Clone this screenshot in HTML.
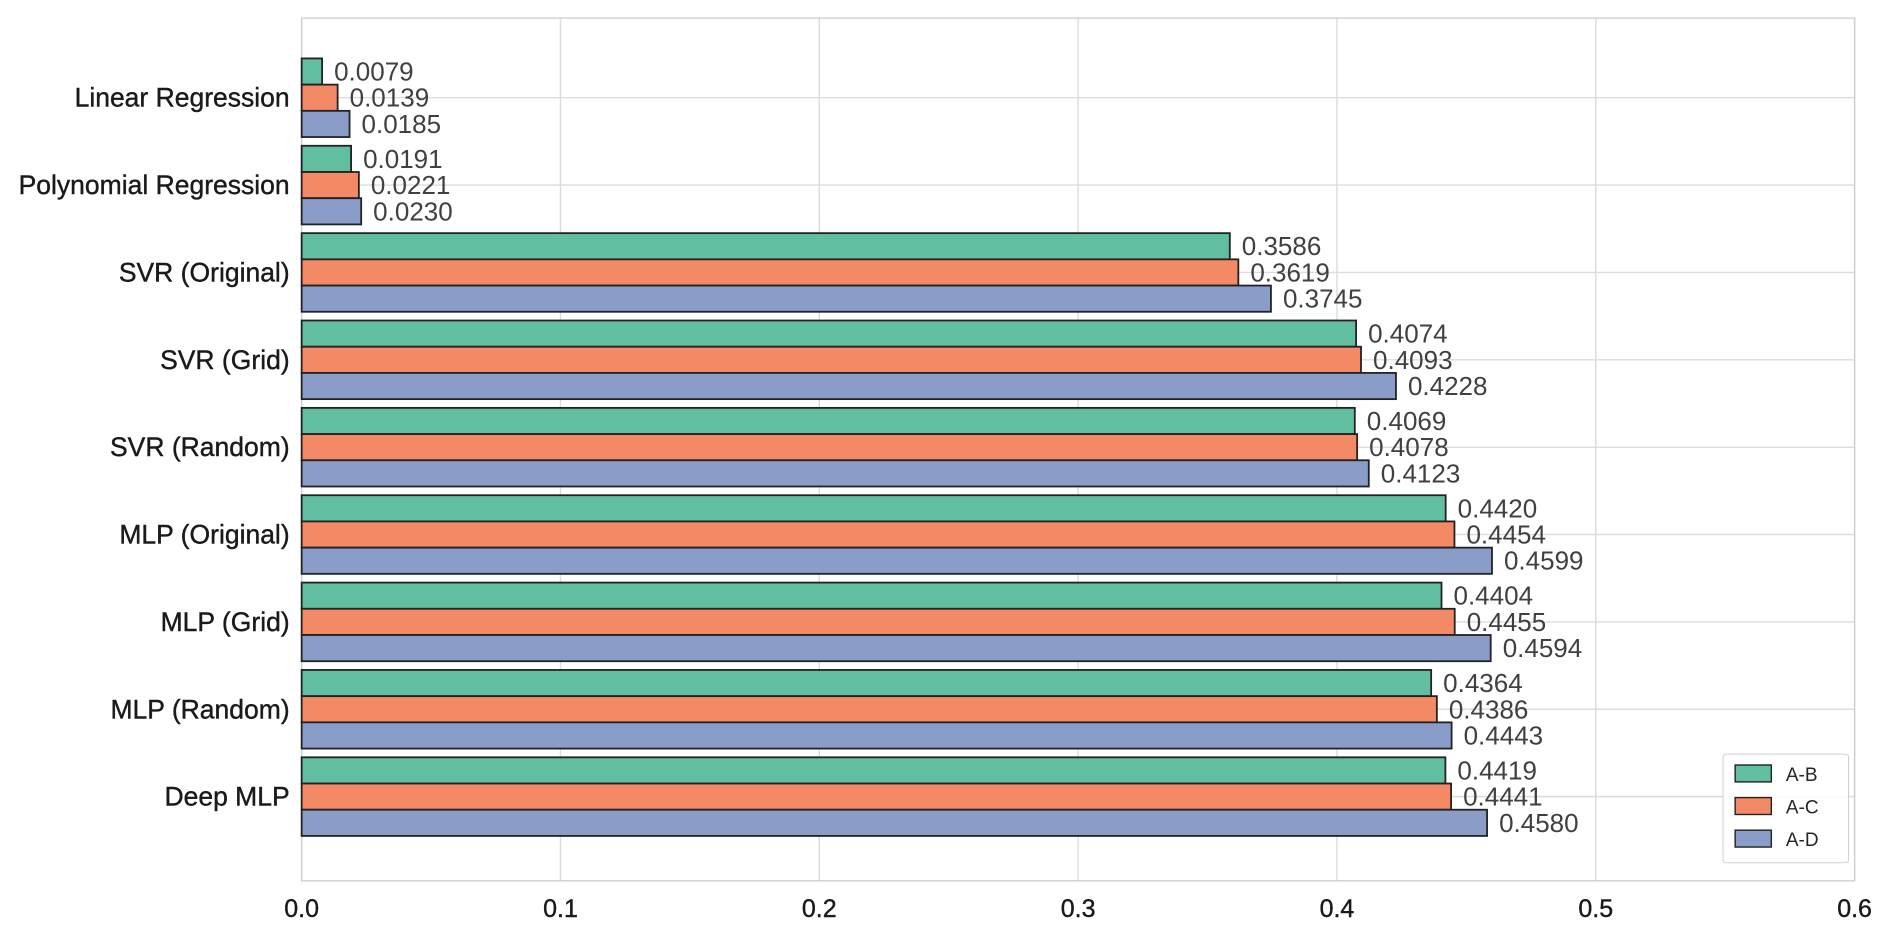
<!DOCTYPE html>
<html><head><meta charset="utf-8"><style>
body{margin:0;background:#fff;}
svg{display:block;font-family:"Liberation Sans",Arial,sans-serif;}
</style></head><body>
<svg id="chart" width="1892" height="927"></svg>
<script>
const categories=["Linear Regression","Polynomial Regression","SVR (Original)","SVR (Grid)","SVR (Random)","MLP (Original)","MLP (Grid)","MLP (Random)","Deep MLP"];
const seriesNames=["A-B","A-C","A-D"];
const seriesAB=[0.0079,0.0191,0.3586,0.4074,0.4069,0.4420,0.4404,0.4364,0.4419];
const seriesAC=[0.0139,0.0221,0.3619,0.4093,0.4078,0.4454,0.4455,0.4386,0.4441];
const seriesAD=[0.0185,0.0230,0.3745,0.4228,0.4123,0.4599,0.4594,0.4443,0.4580];
const xTicks=[0,0.1,0.2,0.3,0.4,0.5,0.6];
const colors=["#62bea1","#f48966","#8a9cc8"];
const NS="http://www.w3.org/2000/svg";
const svg=document.getElementById('chart');
const S=1892/1568;
const L=250*S,R=1537*S,T=15*S,B=730*S;
const x=v=>L+(v/0.6)*(R-L);
const c0=81*S,step=72.4*S;
const yc=i=>c0+i*step;
const bh=step*0.3;
function mk(t,a,p){const e=document.createElementNS(NS,t);for(const k in a)e.setAttribute(k,a[k]);(p||svg).appendChild(e);return e;}
xTicks.forEach(t=>{
 const g=mk('line',{x1:x(t),x2:x(t),y1:T,y2:B,stroke:'#dcdcdc','stroke-width':1.4});
 
 
 const lb=mk('text',{x:x(t),y:B+36,'text-anchor':'middle','font-size':25,fill:'#1a1a1a',stroke:'#1a1a1a','stroke-width':0.4});
 lb.textContent=t.toFixed(1);
 
 
});
categories.forEach((c,i)=>{
 const g=mk('line',{x1:L,x2:R,y1:yc(i),y2:yc(i),stroke:'#dcdcdc','stroke-width':1.4});
 
 
 const lb=mk('text',{x:L-12,y:yc(i)+9,'text-anchor':'end','font-size':26.5,fill:'#1a1a1a',stroke:'#1a1a1a','stroke-width':0.4});
 lb.textContent=c;
 
 
});
const frame=mk('rect',{x:L,y:T,width:R-L,height:B-T,fill:'none',stroke:'#d0d0d0','stroke-width':1.4});


const all=[seriesAB,seriesAC,seriesAD];
all.forEach((s,k)=>{
 s.forEach((v,i)=>{
  const y0=yc(i)-1.5*bh+k*bh;
  const r=mk('rect',{x:L,y:y0,width:x(v)-L,height:bh,fill:colors[k],stroke:'#222','stroke-width':1.8});
  
  
  const t=mk('text',{x:x(v)+12,y:y0+bh/2+9,'font-size':26,fill:'#404040'});
  t.textContent=v.toFixed(4);
  
  
 });
});
const lg=mk('g',{});


mk('rect',{x:1428*S,y:625*S,width:104*S,height:90*S,rx:3,fill:'#fff',stroke:'#d0d0d0','fill-opacity':0.85},lg);
seriesNames.forEach((n,k)=>{
 const yy=(634+k*27)*S;
 const sw=mk('rect',{x:1438*S,y:yy,width:30*S,height:14*S,fill:colors[k],stroke:'#222','stroke-width':1.4},lg);
 
 
 const t=mk('text',{x:1480*S,y:yy+16,'font-size':19,fill:'#262626'},lg);
 t.textContent=n;
 
 
});
</script>
</body></html>
